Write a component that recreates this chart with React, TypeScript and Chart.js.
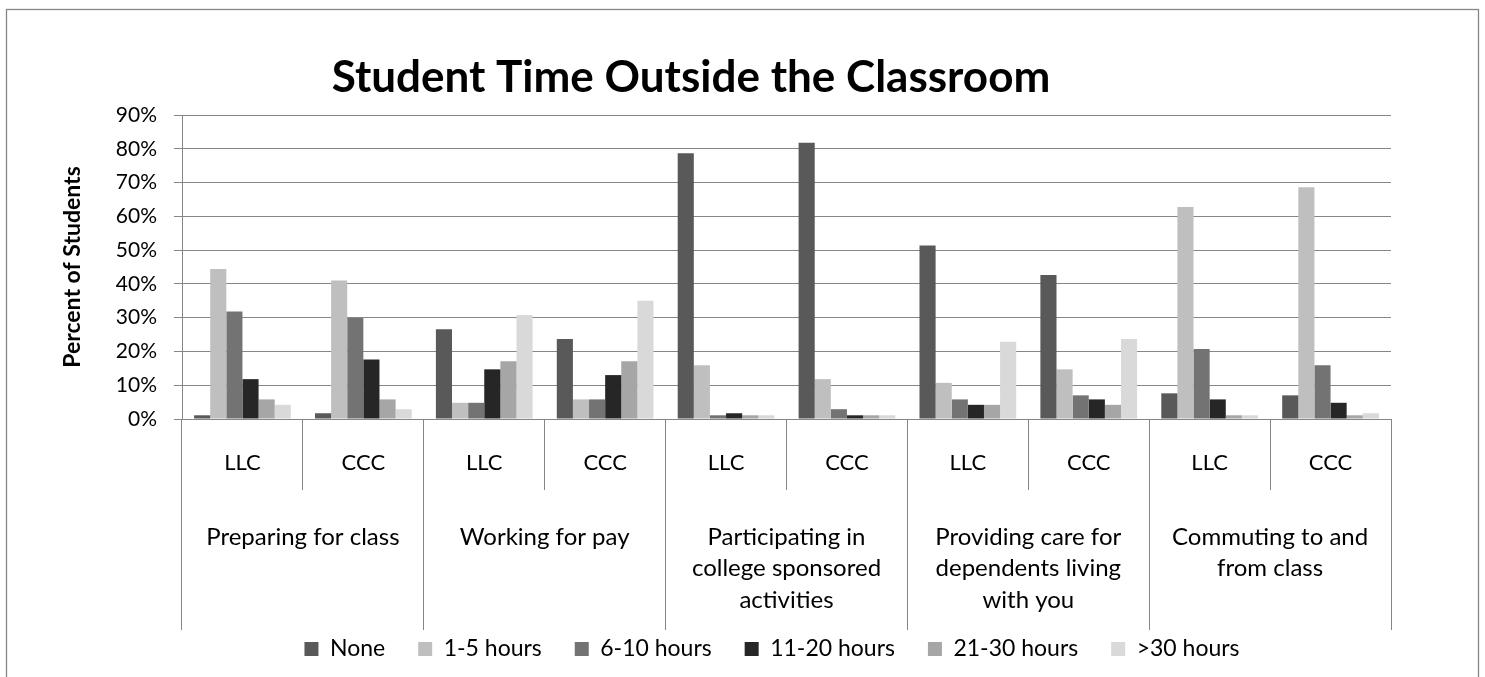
import React, { useEffect, useRef } from 'react';
import { Chart, registerables } from 'chart.js';

Chart.register(...registerables);

// ---- data ----
const subLabels = ['LLC', 'CCC', 'LLC', 'CCC', 'LLC', 'CCC', 'LLC', 'CCC', 'LLC', 'CCC'];
const groupLabels = [
  ['Preparing for class'],
  ['Working for pay'],
  ['Participating in', 'college sponsored', 'activities'],
  ['Providing care for', 'dependents living', 'with you'],
  ['Commuting to and', 'from class'],
];
const seriesNames = ['None', '1-5 hours', '6-10 hours', '11-20 hours', '21-30 hours', '>30 hours'];
const noneValues = [1.1, 1.7, 26.6, 23.7, 78.7, 81.8, 51.4, 42.6, 7.6, 7.0];
const hours1to5 = [44.4, 41.0, 4.8, 5.8, 15.9, 11.8, 10.7, 14.7, 62.8, 68.6];
const hours6to10 = [31.8, 29.9, 4.8, 5.8, 1.1, 2.9, 5.8, 7.0, 20.7, 15.9];
const hours11to20 = [11.8, 17.6, 14.7, 13.0, 1.7, 1.1, 4.2, 5.8, 5.8, 4.8];
const hours21to30 = [5.8, 5.8, 17.1, 17.1, 1.1, 1.1, 4.2, 4.2, 1.1, 1.1];
const hoursOver30 = [4.2, 2.9, 30.8, 35.0, 1.1, 1.1, 22.9, 23.7, 1.1, 1.7];
const seriesValues = [noneValues, hours1to5, hours6to10, hours11to20, hours21to30, hoursOver30];
const seriesColors = ['#595959', '#bfbfbf', '#737373', '#262626', '#a6a6a6', '#d9d9d9'];
const chartTitle = 'Student Time Outside the Classroom';
const yAxisTitle = 'Percent of Students';
const yMin = 0;
const yMax = 90;
const yStep = 10;

const FONT = 'Lato, "Open Sans", sans-serif';
const LINE = '#868686';

const framePlugin = {
  id: 'frame',
  beforeDraw(chart: any) {
    const ctx = chart.ctx;
    ctx.save();
    ctx.fillStyle = '#ffffff';
    ctx.fillRect(0, 0, chart.width, chart.height);
    ctx.strokeStyle = LINE;
    ctx.lineWidth = 1.3;
    ctx.strokeRect(6.5, 9.5, 1472, 720);
    ctx.restore();
  },
  afterDraw(chart: any) {
    const ctx = chart.ctx;
    const area = chart.chartArea;
    ctx.save();
    ctx.fillStyle = '#000000';
    ctx.font = `bold 44px ${FONT}`;
    ctx.textAlign = 'center';
    ctx.textBaseline = 'alphabetic';
    ctx.fillText(chartTitle, area.left + 509, area.top - 23);
    ctx.restore();
  },
};

export default function App() {
  const ref = useRef<HTMLCanvasElement>(null);
  useEffect(() => {
    document.body.style.margin = '0';
    const chart = new Chart(ref.current as HTMLCanvasElement, {
      type: 'bar',
      data: {
        labels: subLabels,
        datasets: seriesNames.map((name, i) => ({
          label: name,
          data: seriesValues[i],
          backgroundColor: seriesColors[i],
          borderWidth: 0,
          categoryPercentage: 0.8,
          barPercentage: 1.0,
          xAxisID: 'x',
          yAxisID: 'y',
        })),
      },
      options: {
        responsive: false,
        animation: false,
        events: [],
        layout: { padding: { left: 100, right: 41, top: 115, bottom: 6.5 } },
        plugins: {
          title: { display: false },
          tooltip: { enabled: false },
          legend: {
            position: 'bottom',
            title: {
              display: true,
              text: '',
              font: { family: FONT, size: 1 },
              padding: { top: -10.7, bottom: 0 },
            },
            labels: {
              boxWidth: 14,
              boxHeight: 14,
              padding: 33,
              color: '#000',
              font: { family: FONT, size: 23 },
            },
          },
        },
        scales: {
          x: {
            type: 'category',
            position: 'bottom',
            weight: 0,
            offset: true,
            grid: {
              offset: true,
              drawOnChartArea: false,
              drawTicks: true,
              tickLength: 71,
              color: LINE,
              lineWidth: 1,
            },
            border: { display: true, color: LINE, width: 1 },
            ticks: {
              autoSkip: false,
              maxRotation: 0,
              minRotation: 0,
              padding: -40.2,
              color: '#000',
              font: { family: FONT, size: 22 },
            },
            afterFit: (s: any) => {
              s.height = 71;
            },
          },
          x2: {
            type: 'category',
            position: 'bottom',
            weight: 1,
            labels: groupLabels as any,
            offset: true,
            grid: {
              offset: true,
              drawOnChartArea: false,
              drawTicks: true,
              tickLength: 140,
              color: LINE,
              lineWidth: 1,
            },
            border: { display: false },
            ticks: {
              autoSkip: false,
              maxRotation: 0,
              minRotation: 0,
              padding: -108.85,
              color: '#000',
              font: { family: FONT, size: 24, lineHeight: 1.32 },
            },
            afterFit: (s: any) => {
              s.height = 124;
            },
          },
          y: {
            position: 'left',
            min: yMin,
            max: yMax,
            grid: {
              color: LINE,
              lineWidth: 1,
              drawTicks: true,
              tickLength: 8,
            },
            border: { display: true, color: LINE, width: 1 },
            ticks: {
              stepSize: yStep,
              padding: 17,
              color: '#000',
              font: { family: FONT, size: 21 },
              callback: (v: any) => `${v}%`,
            },
            title: {
              display: true,
              text: yAxisTitle,
              color: '#000',
              font: { family: FONT, size: 23, weight: 'bold' },
              padding: { top: -40.8, bottom: 0 },
            },
            afterFit: (s: any) => {
              s.width = 82;
            },
          },
          yPad: {
            type: 'linear',
            position: 'right',
            display: true,
            grid: { display: false, drawOnChartArea: false, drawTicks: false },
            border: { display: false },
            ticks: { display: false },
            title: { display: false },
            afterFit: (s: any) => {
              s.width = 53;
            },
          },
        },
      },
      plugins: [framePlugin],
    } as any);
    return () => chart.destroy();
  }, []);
  return (
    <div style={{ width: 1485, height: 677 }}>
      <canvas ref={ref} width={1485} height={677} style={{ display: 'block' }} />
    </div>
  );
}
